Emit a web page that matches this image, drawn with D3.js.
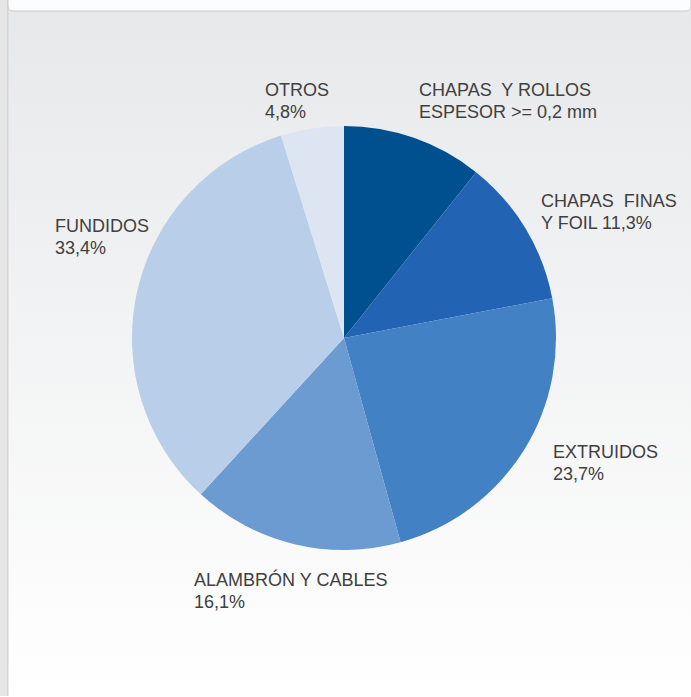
<!DOCTYPE html>
<html><head><meta charset="utf-8">
<script src="https://cdn.jsdelivr.net/npm/d3@7"></script>
<style>html,body{margin:0;padding:0;overflow:hidden;background:#fff}</style>
</head><body>
<svg id="c" width="691" height="697"></svg>
<script>
const categories = ["CHAPAS  Y ROLLOS", "CHAPAS  FINAS", "EXTRUIDOS", "ALAMBRÓN Y CABLES", "FUNDIDOS", "OTROS"];
const values = [10.7, 11.3, 23.7, 16.1, 33.4, 4.8];
const labelLines = [
  ["CHAPAS  Y ROLLOS", "ESPESOR >= 0,2 mm"],
  ["CHAPAS  FINAS", "Y FOIL 11,3%"],
  ["EXTRUIDOS", "23,7%"],
  ["ALAMBRÓN Y CABLES", "16,1%"],
  ["FUNDIDOS", "33,4%"],
  ["OTROS", "4,8%"]
];
const colors = ["#004f8e", "#2264b3", "#4281c4", "#6b9bd0", "#b9cee9", "#dde5f3"];

const svg = d3.select("#c");
const defs = svg.append("defs");
const g = defs.append("linearGradient").attr("id","bg").attr("x1",0).attr("y1",0).attr("x2",0).attr("y2",1);
g.append("stop").attr("offset","0%").attr("stop-color","#e7e8ea");
g.append("stop").attr("offset","100%").attr("stop-color","#ffffff");

svg.append("rect").attr("x",0).attr("y",0).attr("width",691).attr("height",697).attr("fill","url(#bg)");
// left strip
svg.append("rect").attr("x",0).attr("y",0).attr("width",8).attr("height",696).attr("fill","#e6e6e6");
svg.append("rect").attr("x",7).attr("y",0).attr("width",1.5).attr("height",696).attr("fill","#d6d6d6");
// top card
svg.append("path").attr("d","M8,-5 L8,6 Q8,11 13,11 L686,11 Q691,11 691,6 L691,-5 Z")
  .attr("fill","#fdfdfd").attr("stroke","#c9cacc").attr("stroke-width",1);

const cx = 344, cy = 338, r = 212;
const pie = d3.pie().sort(null).value(d => d)(values);
const arc = d3.arc().innerRadius(0).outerRadius(r);
const pg = svg.append("g").attr("transform",`translate(${cx},${cy})`);
pg.selectAll("path").data(pie).join("path")
  .attr("d", arc).attr("fill", (d,i) => colors[i]);

const labelPos = [[419,96],[541,207],[553,458],[194,586],[55,232],[265,96]];
const tg = svg.append("g").attr("font-family","Liberation Sans, Arial, sans-serif")
  .attr("font-size",18).attr("fill","#404040");
labelLines.forEach((lines,i) => {
  const t = tg.append("text").attr("x",labelPos[i][0]).attr("y",labelPos[i][1]);
  lines.forEach((l,j) => t.append("tspan").attr("x",labelPos[i][0]).attr("dy", j ? 22 : 0).attr("xml:space","preserve").text(l));
});
</script>
</body></html>
